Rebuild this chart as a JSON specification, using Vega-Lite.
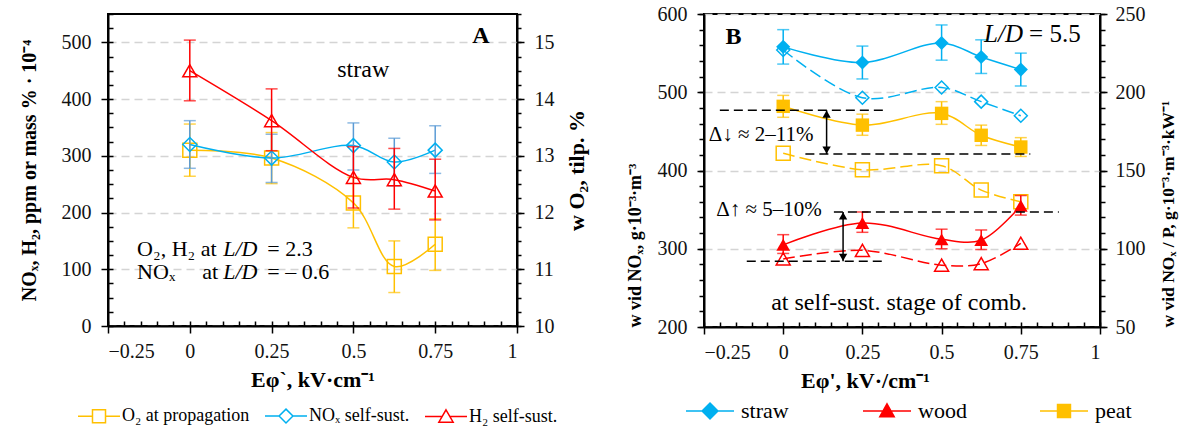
{
  "$schema": "https://vega.github.io/schema/vega-lite/v6.json",
  "background": "white",
  "padding": {"left": 18, "top": 3, "right": 5, "bottom": 0},
  "config": {
    "font": "Liberation Serif",
    "text": {"font": "Liberation Serif"},
    "legend": {"labelFont": "Liberation Serif", "titleFont": "Liberation Serif"},
    "view": {"stroke": "#000", "strokeWidth": 2},
    "axis": {"domainColor": "#000", "domainWidth": 2, "tickColor": "#000", "tickWidth": 1.5, "labelFontSize": 20, "labelColor": "#111", "labelFont": "Liberation Serif", "titleFont": "Liberation Serif", "titleColor": "#000", "titleFontWeight": "bold", "grid": false}
  },
  "datasets": {
    "A": [
      {"s": "O2", "x": 0, "v": 13.1, "lo": 12.64, "hi": 13.56},
      {"s": "O2", "x": 0.25, "v": 12.96, "lo": 12.51, "hi": 13.41},
      {"s": "O2", "x": 0.5, "v": 12.17, "lo": 11.73, "hi": 12.62},
      {"s": "O2", "x": 0.625, "v": 11.05, "lo": 10.59, "hi": 11.5},
      {"s": "O2", "x": 0.75, "v": 11.44, "lo": 10.98, "hi": 11.89},
      {"s": "NOx", "x": 0, "v": 320, "lo": 278, "hi": 362},
      {"s": "NOx", "x": 0.25, "v": 296, "lo": 253, "hi": 338},
      {"s": "NOx", "x": 0.5, "v": 318, "lo": 275, "hi": 358},
      {"s": "NOx", "x": 0.625, "v": 289, "lo": 247, "hi": 331},
      {"s": "NOx", "x": 0.75, "v": 310, "lo": 269, "hi": 353},
      {"s": "H2", "x": 0, "v": 450, "lo": 397, "hi": 504},
      {"s": "H2", "x": 0.25, "v": 362, "lo": 309, "hi": 418},
      {"s": "H2", "x": 0.5, "v": 262, "lo": 208, "hi": 316},
      {"s": "H2", "x": 0.625, "v": 258, "lo": 206, "hi": 313},
      {"s": "H2", "x": 0.75, "v": 238, "lo": 187, "hi": 294}
    ],
    "B": [
      {"s": "straw", "x": 0, "v": 558, "lo": 536, "hi": 580, "w": 227},
      {"s": "straw", "x": 0.25, "v": 538, "lo": 517, "hi": 559, "w": 196.5},
      {"s": "straw", "x": 0.5, "v": 563, "lo": 541, "hi": 586, "w": 203},
      {"s": "straw", "x": 0.625, "v": 545, "lo": 524, "hi": 567, "w": 194},
      {"s": "straw", "x": 0.75, "v": 529, "lo": 508, "hi": 550, "w": 185},
      {"s": "peat", "x": 0, "v": 482, "lo": 468, "hi": 496, "w": 161},
      {"s": "peat", "x": 0.25, "v": 458, "lo": 445, "hi": 472, "w": 150.5},
      {"s": "peat", "x": 0.5, "v": 473, "lo": 459, "hi": 488, "w": 153},
      {"s": "peat", "x": 0.625, "v": 445, "lo": 432, "hi": 458, "w": 137.5},
      {"s": "peat", "x": 0.75, "v": 430, "lo": 418, "hi": 442, "w": 130},
      {"s": "wood", "x": 0, "v": 305, "lo": 294, "hi": 318, "w": 93.5},
      {"s": "wood", "x": 0.25, "v": 333, "lo": 321, "hi": 347, "w": 99},
      {"s": "wood", "x": 0.5, "v": 312, "lo": 300, "hi": 325, "w": 89.5},
      {"s": "wood", "x": 0.625, "v": 311, "lo": 299, "hi": 324, "w": 90.5},
      {"s": "wood", "x": 0.75, "v": 355, "lo": 343, "hi": 368, "w": 103.5}
    ]
  },
  "bounds": "flush",
  "spacing": 187,
  "resolve": {"scale": {"color": "independent", "shape": "independent", "stroke": "independent"}, "legend": {"color": "independent", "shape": "independent", "stroke": "independent"}},
  "hconcat": [
    {
      "width": 409, "height": 312,
      "data": {"name": "A"},
      "resolve": {"scale": {"y": "independent"}, "axis": {"x": "independent", "y": "independent"}},
      "layer": [
        {
          "transform": [{"filter": "datum.s == 'NOx'"}],
          "mark": {"type": "point", "opacity": 0},
          "encoding": {
            "x": {"field": "x", "type": "quantitative", "scale": {"domain": [-0.25, 1], "nice": false, "zero": false},
              "axis": {"orient": "bottom", "values": [-0.25, 0, 0.25, 0.5, 0.75, 1], "labelExpr": "replace(toString(datum.value), '-', '−')", "tickSize": 7, "labelPadding": 8, "title": "Eφ`, kV·cm⁻¹", "titleFontSize": 22, "titlePadding": 8}},
            "y": {"field": "v", "type": "quantitative", "scale": {"domain": [0, 550], "nice": false, "zero": false},
              "axis": {"orient": "left", "values": [0, 100, 200, 300, 400, 500], "grid": true, "gridDash": [8, 5], "gridColor": "#d4d4d4", "gridWidth": 1.5, "tickSize": 7, "labelPadding": 10, "title": "NOₓ, H₂, ppm or mass % · 10⁻⁴", "titleFontSize": 20, "titlePadding": 22}}
          }
        },
        {
          "mark": {"type": "point", "opacity": 0},
          "encoding": {
            "x": {"field": "x", "type": "quantitative", "scale": {"domain": [-0.25, 1], "nice": false, "zero": false},
              "axis": {"orient": "bottom", "values": [-0.25, -0.2, -0.15, -0.1, -0.05, 0, 0.05, 0.1, 0.15, 0.2, 0.25, 0.3, 0.35, 0.4, 0.45, 0.5, 0.55, 0.6, 0.65, 0.7, 0.75, 0.8, 0.85, 0.9, 0.95, 1], "labels": false, "domain": false, "tickSize": -5, "title": null}},
            "y": {"field": "v", "type": "quantitative", "scale": {"domain": [0, 550], "nice": false, "zero": false},
              "axis": {"orient": "left", "values": [0, 25, 50, 75, 100, 125, 150, 175, 200, 225, 250, 275, 300, 325, 350, 375, 400, 425, 450, 475, 500, 525, 550], "labels": false, "domain": false, "tickSize": -5, "title": null}}
          }
        },
        {
          "transform": [{"filter": "datum.s == 'O2'"}],
          "mark": {"type": "point", "opacity": 0},
          "encoding": {
            "x": {"field": "x", "type": "quantitative", "scale": {"domain": [-0.25, 1], "nice": false, "zero": false}, "axis": null},
            "y": {"field": "v", "type": "quantitative", "scale": {"domain": [10, 15.5], "nice": false, "zero": false},
              "axis": {"orient": "right", "values": [10, 11, 12, 13, 14, 15], "tickSize": 7, "labelPadding": 10, "title": "w O₂, tilp. %", "titleFontSize": 22, "titleAngle": 270, "titleBaseline": "top", "titlePadding": 12}}
          }
        },
        {
          "transform": [{"filter": "datum.s == 'O2'"}],
          "mark": {"type": "point", "opacity": 0},
          "encoding": {
            "x": {"field": "x", "type": "quantitative", "scale": {"domain": [-0.25, 1], "nice": false, "zero": false}, "axis": null},
            "y": {"field": "v", "type": "quantitative", "scale": {"domain": [10, 15.5], "nice": false, "zero": false},
              "axis": {"orient": "right", "values": [10, 10.25, 10.5, 10.75, 11, 11.25, 11.5, 11.75, 12, 12.25, 12.5, 12.75, 13, 13.25, 13.5, 13.75, 14, 14.25, 14.5, 14.75, 15, 15.25, 15.5], "labels": false, "domain": false, "tickSize": 4, "title": null}}
          }
        },
        {
          "transform": [{"filter": "datum.s == 'O2'"}],
          "encoding": {"x": {"field": "x", "type": "quantitative", "scale": {"domain": [-0.25, 1], "nice": false, "zero": false}, "axis": null}},
          "layer": [
            {"mark": {"type": "line", "color": "#FFC000", "strokeWidth": 1.5, "interpolate": "catmull-rom"}, "encoding": {"y": {"field": "v", "type": "quantitative", "scale": {"domain": [10, 15.5], "nice": false, "zero": false}, "axis": null}}},
            {"mark": {"type": "rule", "color": "#FFC000", "strokeWidth": 1.5}, "encoding": {"y": {"field": "lo", "type": "quantitative", "scale": {"domain": [10, 15.5], "nice": false, "zero": false}, "axis": null}, "y2": {"field": "hi"}}},
            {"transform": [{"fold": ["lo", "hi"], "as": ["k", "e"]}], "mark": {"type": "tick", "orient": "horizontal", "color": "#FFC000", "size": 12, "thickness": 1.5}, "encoding": {"y": {"field": "e", "type": "quantitative", "scale": {"domain": [10, 15.5], "nice": false, "zero": false}, "axis": null}}},
            {"mark": {"type": "point", "shape": "square", "filled": false, "size": 196, "color": "#FFC000", "strokeWidth": 1.5, "opacity": 1}, "encoding": {"y": {"field": "v", "type": "quantitative", "scale": {"domain": [10, 15.5], "nice": false, "zero": false}, "axis": null}}}
          ]
        },
        {
          "transform": [{"filter": "datum.s == 'NOx'"}],
          "encoding": {"x": {"field": "x", "type": "quantitative", "scale": {"domain": [-0.25, 1], "nice": false, "zero": false}, "axis": null}},
          "layer": [
            {"mark": {"type": "line", "color": "#00B0F0", "strokeWidth": 1.5, "interpolate": "catmull-rom"}, "encoding": {"y": {"field": "v", "type": "quantitative", "scale": {"domain": [0, 550], "nice": false, "zero": false}, "axis": null}}},
            {"mark": {"type": "rule", "color": "#5B9BD5", "strokeWidth": 1.5}, "encoding": {"y": {"field": "lo", "type": "quantitative", "scale": {"domain": [0, 550], "nice": false, "zero": false}, "axis": null}, "y2": {"field": "hi"}}},
            {"transform": [{"fold": ["lo", "hi"], "as": ["k", "e"]}], "mark": {"type": "tick", "orient": "horizontal", "color": "#5B9BD5", "size": 12, "thickness": 1.5}, "encoding": {"y": {"field": "e", "type": "quantitative", "scale": {"domain": [0, 550], "nice": false, "zero": false}, "axis": null}}},
            {"mark": {"type": "point", "shape": "diamond", "filled": false, "size": 196, "color": "#00B0F0", "strokeWidth": 1.5, "opacity": 1}, "encoding": {"y": {"field": "v", "type": "quantitative", "scale": {"domain": [0, 550], "nice": false, "zero": false}, "axis": null}}}
          ]
        },
        {
          "transform": [{"filter": "datum.s == 'H2'"}],
          "encoding": {"x": {"field": "x", "type": "quantitative", "scale": {"domain": [-0.25, 1], "nice": false, "zero": false}, "axis": null}},
          "layer": [
            {"mark": {"type": "line", "color": "#FF0000", "strokeWidth": 1.5, "interpolate": "catmull-rom"}, "encoding": {"y": {"field": "v", "type": "quantitative", "scale": {"domain": [0, 550], "nice": false, "zero": false}, "axis": null}}},
            {"mark": {"type": "rule", "color": "#FF0000", "strokeWidth": 1.5}, "encoding": {"y": {"field": "lo", "type": "quantitative", "scale": {"domain": [0, 550], "nice": false, "zero": false}, "axis": null}, "y2": {"field": "hi"}}},
            {"transform": [{"fold": ["lo", "hi"], "as": ["k", "e"]}], "mark": {"type": "tick", "orient": "horizontal", "color": "#FF0000", "size": 12, "thickness": 1.5}, "encoding": {"y": {"field": "e", "type": "quantitative", "scale": {"domain": [0, 550], "nice": false, "zero": false}, "axis": null}}},
            {"mark": {"type": "point", "shape": "triangle-up", "filled": false, "size": 196, "color": "#FF0000", "strokeWidth": 1.5, "opacity": 1}, "encoding": {"y": {"field": "v", "type": "quantitative", "scale": {"domain": [0, 550], "nice": false, "zero": false}, "axis": null}}}
          ]
        },
        {
          "data": {"values": [{"t": "A", "x": 0.89, "y": 512}]},
          "mark": {"type": "text", "font": "Liberation Serif", "fontSize": 24, "fontWeight": "bold", "color": "#000"},
          "encoding": {
            "x": {"field": "x", "type": "quantitative", "scale": {"domain": [-0.25, 1], "nice": false, "zero": false}, "axis": null},
            "y": {"field": "y", "type": "quantitative", "scale": {"domain": [0, 550], "nice": false, "zero": false}, "axis": null},
            "text": {"field": "t"}
          }
        },
        {
          "data": {"values": [{"t": "straw", "x": 0.53, "y": 452}]},
          "mark": {"type": "text", "font": "Liberation Serif", "fontSize": 24, "color": "#000"},
          "encoding": {
            "x": {"field": "x", "type": "quantitative", "scale": {"domain": [-0.25, 1], "nice": false, "zero": false}, "axis": null},
            "y": {"field": "y", "type": "quantitative", "scale": {"domain": [0, 550], "nice": false, "zero": false}, "axis": null},
            "text": {"field": "t"}
          }
        },
        {
          "data": {"values": [
            {"t": "O₂, H₂ at", "x": -0.161, "y": 136},
            {"t": "= 2.3", "x": 0.237, "y": 136},
            {"t": "NOₓ", "x": -0.161, "y": 95},
            {"t": "at", "x": 0.038, "y": 95},
            {"t": "= – 0.6", "x": 0.237, "y": 95}
          ]},
          "mark": {"type": "text", "font": "Liberation Serif", "fontSize": 22, "align": "left", "color": "#000"},
          "encoding": {
            "x": {"field": "x", "type": "quantitative", "scale": {"domain": [-0.25, 1], "nice": false, "zero": false}, "axis": null},
            "y": {"field": "y", "type": "quantitative", "scale": {"domain": [0, 550], "nice": false, "zero": false}, "axis": null},
            "text": {"field": "t"}
          }
        },
        {
          "data": {"values": [
            {"t": "L/D", "x": 0.102, "y": 136},
            {"t": "L/D", "x": 0.102, "y": 95}
          ]},
          "mark": {"type": "text", "font": "Liberation Serif", "fontSize": 22, "fontStyle": "italic", "align": "left", "color": "#000"},
          "encoding": {
            "x": {"field": "x", "type": "quantitative", "scale": {"domain": [-0.25, 1], "nice": false, "zero": false}, "axis": null},
            "y": {"field": "y", "type": "quantitative", "scale": {"domain": [0, 550], "nice": false, "zero": false}, "axis": null},
            "text": {"field": "t"}
          }
        },
        {
          "transform": [{"filter": "false"}],
          "mark": {"type": "point", "filled": false, "size": 1764, "strokeWidth": 1.5, "opacity": 1},
          "encoding": {
            "color": {"field": "s", "type": "nominal", "scale": {"domain": ["O2", "NOx", "H2"], "range": ["#FFC000", "#00B0F0", "#FF0000"]},
              "legend": {"orient": "none", "legendX": -31, "legendY": 380, "direction": "horizontal", "columns": 3, "title": null, "padding": 0, "labelExpr": "datum.label == 'O2' ? 'O₂ at propagation' : datum.label == 'NOx' ? 'NOₓ self-sust.' : 'H₂ self-sust.'", "labelFontSize": 18, "labelFont": "Liberation Serif", "labelColor": "#000", "symbolSize": 1764, "symbolStrokeWidth": 1.5, "columnPadding": 12, "labelOffset": 1}},
            "shape": {"field": "s", "type": "nominal", "scale": {"domain": ["O2", "NOx", "H2"], "range": ["M-1,0H-0.31M0.31,0H1M-0.31,-0.31H0.31V0.31H-0.31Z", "M-1,0H-0.33M0.33,0H1M0,-0.33L0.33,0L0,0.33L-0.33,0Z", "M-1,0H-0.19M0.19,0H1M0,-0.32L0.34,0.27L-0.34,0.27Z"]},
              "legend": {"orient": "none", "legendX": -31, "legendY": 380, "direction": "horizontal", "columns": 3, "title": null, "padding": 0, "labelExpr": "datum.label == 'O2' ? 'O₂ at propagation' : datum.label == 'NOx' ? 'NOₓ self-sust.' : 'H₂ self-sust.'", "labelFontSize": 18, "labelFont": "Liberation Serif", "labelColor": "#000", "symbolSize": 1764, "symbolStrokeWidth": 1.5, "columnPadding": 12, "labelOffset": 1}}
          }
        }
      ]
    },
    {
      "width": 396, "height": 313,
      "data": {"name": "B"},
      "resolve": {"scale": {"y": "independent"}, "axis": {"x": "independent", "y": "independent"}},
      "layer": [
        {
          "transform": [{"filter": "datum.s == 'straw'"}],
          "mark": {"type": "point", "opacity": 0},
          "encoding": {
            "x": {"field": "x", "type": "quantitative", "scale": {"domain": [-0.25, 1], "nice": false, "zero": false},
              "axis": {"orient": "bottom", "values": [-0.25, 0, 0.25, 0.5, 0.75, 1], "labelExpr": "replace(toString(datum.value), '-', '−')", "tickSize": 7, "labelPadding": 8, "title": "Eφ', kV·/cm⁻¹", "titleFontSize": 22, "titlePadding": 8, "titleX": 161}},
            "y": {"field": "v", "type": "quantitative", "scale": {"domain": [200, 600], "nice": false, "zero": false},
              "axis": {"orient": "left", "values": [200, 300, 400, 500, 600], "grid": true, "gridDash": [8, 5], "gridColor": "#d4d4d4", "gridWidth": 1.5, "tickSize": 7, "labelPadding": 10, "title": "w vid NOₓ, g·10⁻³·m⁻³", "titleFontSize": 18, "titlePadding": 13, "titleAnchor": "start"}}
          }
        },
        {
          "mark": {"type": "point", "opacity": 0},
          "encoding": {
            "x": {"field": "x", "type": "quantitative", "scale": {"domain": [-0.25, 1], "nice": false, "zero": false},
              "axis": {"orient": "bottom", "values": [-0.25, -0.2, -0.15, -0.1, -0.05, 0, 0.05, 0.1, 0.15, 0.2, 0.25, 0.3, 0.35, 0.4, 0.45, 0.5, 0.55, 0.6, 0.65, 0.7, 0.75, 0.8, 0.85, 0.9, 0.95, 1], "labels": false, "domain": false, "tickSize": -5, "title": null}},
            "y": {"field": "v", "type": "quantitative", "scale": {"domain": [200, 600], "nice": false, "zero": false},
              "axis": {"orient": "left", "values": [200, 220, 240, 260, 280, 300, 320, 340, 360, 380, 400, 420, 440, 460, 480, 500, 520, 540, 560, 580, 600], "labels": false, "domain": false, "tickSize": 5, "title": null}}
          }
        },
        {
          "mark": {"type": "point", "opacity": 0},
          "encoding": {
            "x": {"field": "x", "type": "quantitative", "scale": {"domain": [-0.25, 1], "nice": false, "zero": false}, "axis": null},
            "y": {"field": "w", "type": "quantitative", "scale": {"domain": [50, 250], "nice": false, "zero": false},
              "axis": {"orient": "right", "values": [50, 100, 150, 200, 250], "tickSize": 7, "labelPadding": 8, "title": "w vid NOₓ / P,  g·10⁻³·m⁻³·kW⁻¹", "titleFontSize": 17.5, "titleAngle": 270, "titleBaseline": "top", "titlePadding": 14, "titleAnchor": "start"}}
          }
        },
        {
          "mark": {"type": "point", "opacity": 0},
          "encoding": {
            "x": {"field": "x", "type": "quantitative", "scale": {"domain": [-0.25, 1], "nice": false, "zero": false}, "axis": null},
            "y": {"field": "w", "type": "quantitative", "scale": {"domain": [50, 250], "nice": false, "zero": false},
              "axis": {"orient": "right", "values": [50, 60, 70, 80, 90, 100, 110, 120, 130, 140, 150, 160, 170, 180, 190, 200, 210, 220, 230, 240, 250], "labels": false, "domain": false, "tickSize": 5, "title": null}}
          }
        },
        {
          "transform": [{"filter": "datum.s == 'straw'"}],
          "encoding": {"x": {"field": "x", "type": "quantitative", "scale": {"domain": [-0.25, 1], "nice": false, "zero": false}, "axis": null}},
          "layer": [
            {"mark": {"type": "line", "color": "#00B0F0", "strokeWidth": 1.5, "strokeDash": [12, 5], "interpolate": "catmull-rom"}, "encoding": {"y": {"field": "w", "type": "quantitative", "scale": {"domain": [50, 250], "nice": false, "zero": false}, "axis": null}}},
            {"mark": {"type": "point", "shape": "diamond", "filled": false, "size": 169, "color": "#00B0F0", "strokeWidth": 1.5, "opacity": 1}, "encoding": {"y": {"field": "w", "type": "quantitative", "scale": {"domain": [50, 250], "nice": false, "zero": false}, "axis": null}}}
          ]
        },
        {
          "transform": [{"filter": "datum.s == 'peat'"}],
          "encoding": {"x": {"field": "x", "type": "quantitative", "scale": {"domain": [-0.25, 1], "nice": false, "zero": false}, "axis": null}},
          "layer": [
            {"mark": {"type": "line", "color": "#FFC000", "strokeWidth": 1.5, "strokeDash": [12, 5], "interpolate": "catmull-rom"}, "encoding": {"y": {"field": "w", "type": "quantitative", "scale": {"domain": [50, 250], "nice": false, "zero": false}, "axis": null}}},
            {"mark": {"type": "point", "shape": "square", "filled": false, "size": 196, "color": "#FFC000", "strokeWidth": 1.5, "opacity": 1}, "encoding": {"y": {"field": "w", "type": "quantitative", "scale": {"domain": [50, 250], "nice": false, "zero": false}, "axis": null}}}
          ]
        },
        {
          "transform": [{"filter": "datum.s == 'wood'"}],
          "encoding": {"x": {"field": "x", "type": "quantitative", "scale": {"domain": [-0.25, 1], "nice": false, "zero": false}, "axis": null}},
          "layer": [
            {"mark": {"type": "line", "color": "#FF0000", "strokeWidth": 1.5, "strokeDash": [12, 5], "interpolate": "catmull-rom"}, "encoding": {"y": {"field": "w", "type": "quantitative", "scale": {"domain": [50, 250], "nice": false, "zero": false}, "axis": null}}},
            {"mark": {"type": "point", "shape": "triangle-up", "filled": false, "size": 196, "color": "#FF0000", "strokeWidth": 1.5, "opacity": 1}, "encoding": {"y": {"field": "w", "type": "quantitative", "scale": {"domain": [50, 250], "nice": false, "zero": false}, "axis": null}}}
          ]
        },
        {
          "transform": [{"filter": "datum.s == 'straw'"}],
          "encoding": {"x": {"field": "x", "type": "quantitative", "scale": {"domain": [-0.25, 1], "nice": false, "zero": false}, "axis": null}},
          "layer": [
            {"mark": {"type": "line", "color": "#00B0F0", "strokeWidth": 1.5, "interpolate": "catmull-rom"}, "encoding": {"y": {"field": "v", "type": "quantitative", "scale": {"domain": [200, 600], "nice": false, "zero": false}, "axis": null}}},
            {"mark": {"type": "rule", "color": "#00B0F0", "strokeWidth": 1.5}, "encoding": {"y": {"field": "lo", "type": "quantitative", "scale": {"domain": [200, 600], "nice": false, "zero": false}, "axis": null}, "y2": {"field": "hi"}}},
            {"transform": [{"fold": ["lo", "hi"], "as": ["k", "e"]}], "mark": {"type": "tick", "orient": "horizontal", "color": "#00B0F0", "size": 12, "thickness": 1.5}, "encoding": {"y": {"field": "e", "type": "quantitative", "scale": {"domain": [200, 600], "nice": false, "zero": false}, "axis": null}}},
            {"mark": {"type": "point", "shape": "diamond", "filled": true, "size": 200, "color": "#00B0F0", "opacity": 1}, "encoding": {"y": {"field": "v", "type": "quantitative", "scale": {"domain": [200, 600], "nice": false, "zero": false}, "axis": null}}}
          ]
        },
        {
          "transform": [{"filter": "datum.s == 'peat'"}],
          "encoding": {"x": {"field": "x", "type": "quantitative", "scale": {"domain": [-0.25, 1], "nice": false, "zero": false}, "axis": null}},
          "layer": [
            {"mark": {"type": "line", "color": "#FFC000", "strokeWidth": 1.5, "interpolate": "catmull-rom"}, "encoding": {"y": {"field": "v", "type": "quantitative", "scale": {"domain": [200, 600], "nice": false, "zero": false}, "axis": null}}},
            {"mark": {"type": "rule", "color": "#FFC000", "strokeWidth": 1.5}, "encoding": {"y": {"field": "lo", "type": "quantitative", "scale": {"domain": [200, 600], "nice": false, "zero": false}, "axis": null}, "y2": {"field": "hi"}}},
            {"transform": [{"fold": ["lo", "hi"], "as": ["k", "e"]}], "mark": {"type": "tick", "orient": "horizontal", "color": "#FFC000", "size": 12, "thickness": 1.5}, "encoding": {"y": {"field": "e", "type": "quantitative", "scale": {"domain": [200, 600], "nice": false, "zero": false}, "axis": null}}},
            {"mark": {"type": "point", "shape": "square", "filled": true, "size": 180, "color": "#FFC000", "opacity": 1}, "encoding": {"y": {"field": "v", "type": "quantitative", "scale": {"domain": [200, 600], "nice": false, "zero": false}, "axis": null}}}
          ]
        },
        {
          "transform": [{"filter": "datum.s == 'wood'"}],
          "encoding": {"x": {"field": "x", "type": "quantitative", "scale": {"domain": [-0.25, 1], "nice": false, "zero": false}, "axis": null}},
          "layer": [
            {"mark": {"type": "line", "color": "#FF0000", "strokeWidth": 1.5, "interpolate": "catmull-rom"}, "encoding": {"y": {"field": "v", "type": "quantitative", "scale": {"domain": [200, 600], "nice": false, "zero": false}, "axis": null}}},
            {"mark": {"type": "rule", "color": "#FF0000", "strokeWidth": 1.5}, "encoding": {"y": {"field": "lo", "type": "quantitative", "scale": {"domain": [200, 600], "nice": false, "zero": false}, "axis": null}, "y2": {"field": "hi"}}},
            {"transform": [{"fold": ["lo", "hi"], "as": ["k", "e"]}], "mark": {"type": "tick", "orient": "horizontal", "color": "#FF0000", "size": 12, "thickness": 1.5}, "encoding": {"y": {"field": "e", "type": "quantitative", "scale": {"domain": [200, 600], "nice": false, "zero": false}, "axis": null}}},
            {"mark": {"type": "point", "shape": "triangle-up", "filled": true, "size": 190, "color": "#FF0000", "opacity": 1}, "encoding": {"y": {"field": "v", "type": "quantitative", "scale": {"domain": [200, 600], "nice": false, "zero": false}, "axis": null}}}
          ]
        },
        {
          "data": {"values": [
            {"y": 477, "x1": -0.2, "x2": 0.32},
            {"y": 421, "x1": 0.07, "x2": 0.78},
            {"y": 347, "x1": 0.16, "x2": 0.87},
            {"y": 284, "x1": -0.115, "x2": 0.32}
          ]},
          "mark": {"type": "rule", "color": "#000", "strokeWidth": 1.5, "strokeDash": [9, 5]},
          "encoding": {
            "x": {"field": "x1", "type": "quantitative", "scale": {"domain": [-0.25, 1], "nice": false, "zero": false}, "axis": null},
            "x2": {"field": "x2"},
            "y": {"field": "y", "type": "quantitative", "scale": {"domain": [200, 600], "nice": false, "zero": false}, "axis": null}
          }
        },
        {
          "data": {"values": [
            {"x": 0.137, "y1": 421, "y2": 477},
            {"x": 0.189, "y1": 284, "y2": 347}
          ]},
          "encoding": {"x": {"field": "x", "type": "quantitative", "scale": {"domain": [-0.25, 1], "nice": false, "zero": false}, "axis": null}},
          "layer": [
            {"mark": {"type": "rule", "color": "#000", "strokeWidth": 1.5}, "encoding": {"y": {"field": "y1", "type": "quantitative", "scale": {"domain": [200, 600], "nice": false, "zero": false}, "axis": null}, "y2": {"field": "y2"}}},
            {"mark": {"type": "point", "shape": "triangle-up", "filled": true, "size": 70, "color": "#000", "opacity": 1, "yOffset": 4}, "encoding": {"y": {"field": "y2", "type": "quantitative", "scale": {"domain": [200, 600], "nice": false, "zero": false}, "axis": null}}},
            {"mark": {"type": "point", "shape": "triangle-down", "filled": true, "size": 70, "color": "#000", "opacity": 1, "yOffset": -4}, "encoding": {"y": {"field": "y1", "type": "quantitative", "scale": {"domain": [200, 600], "nice": false, "zero": false}, "axis": null}}}
          ]
        },
        {
          "data": {"values": [{"t": "B", "x": -0.157, "y": 571}]},
          "mark": {"type": "text", "font": "Liberation Serif", "fontSize": 24, "fontWeight": "bold", "color": "#000"},
          "encoding": {
            "x": {"field": "x", "type": "quantitative", "scale": {"domain": [-0.25, 1], "nice": false, "zero": false}, "axis": null},
            "y": {"field": "y", "type": "quantitative", "scale": {"domain": [200, 600], "nice": false, "zero": false}, "axis": null},
            "text": {"field": "t"}
          }
        },
        {
          "data": {"values": [{"t": "L/D", "x": 0.757, "y": 574}]},
          "mark": {"type": "text", "font": "Liberation Serif", "fontSize": 25, "fontStyle": "italic", "align": "right", "color": "#000"},
          "encoding": {
            "x": {"field": "x", "type": "quantitative", "scale": {"domain": [-0.25, 1], "nice": false, "zero": false}, "axis": null},
            "y": {"field": "y", "type": "quantitative", "scale": {"domain": [200, 600], "nice": false, "zero": false}, "axis": null},
            "text": {"field": "t"}
          }
        },
        {
          "data": {"values": [{"t": "= 5.5", "x": 0.776, "y": 574}]},
          "mark": {"type": "text", "font": "Liberation Serif", "fontSize": 25, "align": "left", "color": "#000"},
          "encoding": {
            "x": {"field": "x", "type": "quantitative", "scale": {"domain": [-0.25, 1], "nice": false, "zero": false}, "axis": null},
            "y": {"field": "y", "type": "quantitative", "scale": {"domain": [200, 600], "nice": false, "zero": false}, "axis": null},
            "text": {"field": "t"}
          }
        },
        {
          "data": {"values": [{"t": "at self-sust. stage of comb.", "x": 0.366, "y": 231}]},
          "mark": {"type": "text", "font": "Liberation Serif", "fontSize": 24, "color": "#000"},
          "encoding": {
            "x": {"field": "x", "type": "quantitative", "scale": {"domain": [-0.25, 1], "nice": false, "zero": false}, "axis": null},
            "y": {"field": "y", "type": "quantitative", "scale": {"domain": [200, 600], "nice": false, "zero": false}, "axis": null},
            "text": {"field": "t"}
          }
        },
        {
          "data": {"values": [
            {"t": "Δ↓ ≈ 2–11%", "x": -0.07, "y": 445},
            {"t": "Δ↑ ≈ 5–10%", "x": -0.045, "y": 349}
          ]},
          "mark": {"type": "text", "font": "Liberation Serif", "fontSize": 21, "color": "#000"},
          "encoding": {
            "x": {"field": "x", "type": "quantitative", "scale": {"domain": [-0.25, 1], "nice": false, "zero": false}, "axis": null},
            "y": {"field": "y", "type": "quantitative", "scale": {"domain": [200, 600], "nice": false, "zero": false}, "axis": null},
            "text": {"field": "t"}
          }
        },
        {
          "transform": [{"filter": "false"}],
          "mark": {"type": "point", "filled": true, "size": 2304, "strokeWidth": 1.5, "opacity": 1},
          "encoding": {
            "color": {"field": "s", "type": "nominal", "scale": {"domain": ["straw", "wood", "peat"], "range": ["#00B0F0", "#FF0000", "#FFC000"]},
              "legend": {"orient": "none", "legendX": -19, "legendY": 372, "direction": "horizontal", "columns": 3, "title": null, "padding": 0, "gridAlign": "all", "labelFontSize": 22, "labelFont": "Liberation Serif", "labelColor": "#000", "symbolSize": 2304, "symbolStrokeWidth": 1.5, "columnPadding": 70, "labelOffset": 6}},
            "stroke": {"field": "s", "type": "nominal", "scale": {"domain": ["straw", "wood", "peat"], "range": ["#00B0F0", "#FF0000", "#FFC000"]},
              "legend": {"orient": "none", "legendX": -19, "legendY": 372, "direction": "horizontal", "columns": 3, "title": null, "padding": 0, "gridAlign": "all", "labelFontSize": 22, "labelFont": "Liberation Serif", "labelColor": "#000", "symbolSize": 2304, "symbolStrokeWidth": 1.5, "columnPadding": 70, "labelOffset": 6}},
            "shape": {"field": "s", "type": "nominal", "scale": {"domain": ["straw", "wood", "peat"], "range": ["M-1,0H1M0,-0.33L0.33,0L0,0.33L-0.33,0Z", "M-1,0H1M0,-0.3L0.3,0.24L-0.3,0.24Z", "M-1,0H1M-0.27,-0.27H0.27V0.27H-0.27Z"]},
              "legend": {"orient": "none", "legendX": -19, "legendY": 372, "direction": "horizontal", "columns": 3, "title": null, "padding": 0, "gridAlign": "all", "labelFontSize": 22, "labelFont": "Liberation Serif", "labelColor": "#000", "symbolSize": 2304, "symbolStrokeWidth": 1.5, "columnPadding": 70, "labelOffset": 6}}
          }
        }
      ]
    }
  ]
}
